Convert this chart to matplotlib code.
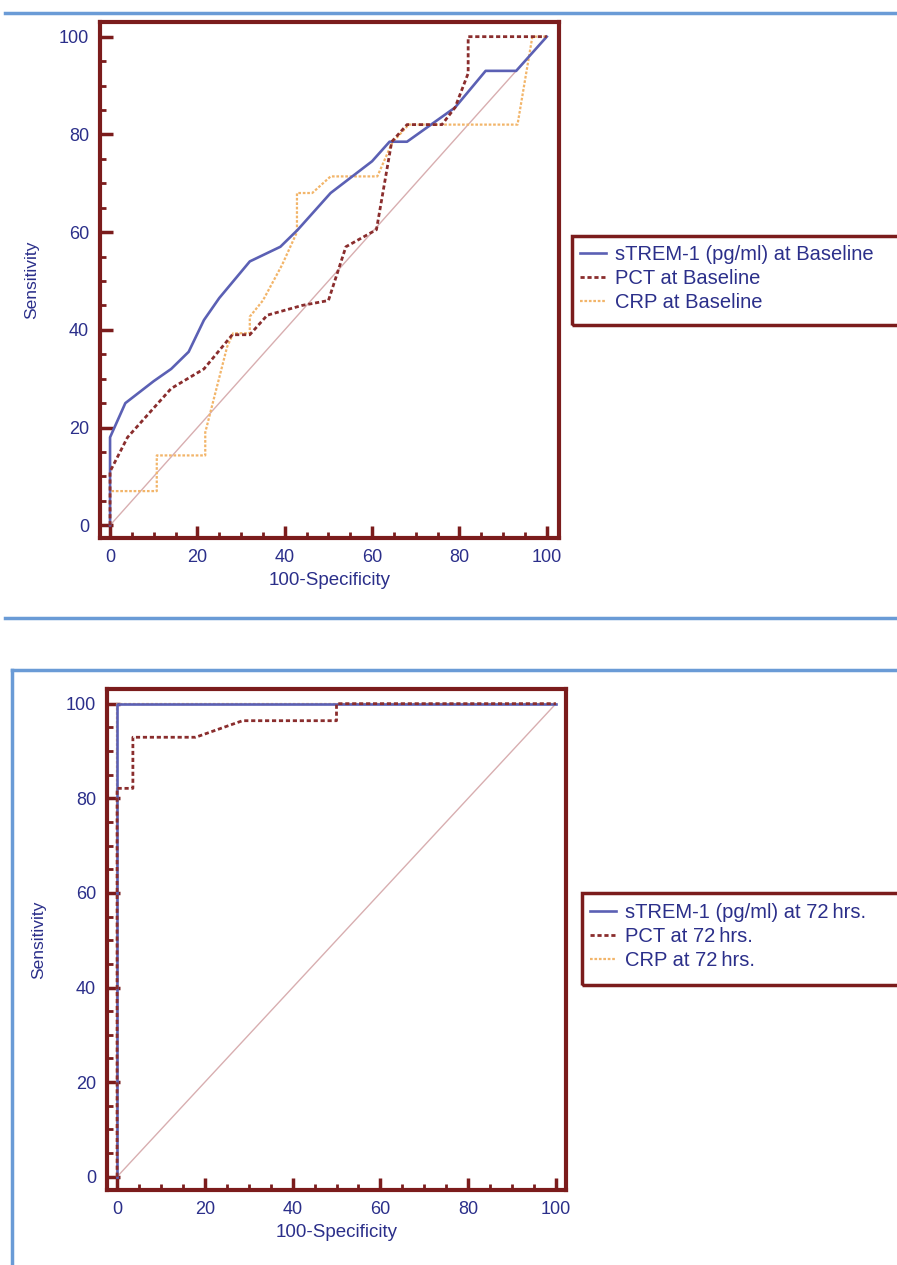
import matplotlib.pyplot as plt
from matplotlib.lines import Line2D
from matplotlib.patches import Rectangle
from matplotlib.ticker import MultipleLocator

plt.rcParams['font.family'] = ['Liberation Sans', 'DejaVu Sans']

# ROC data (x = 100-Specificity, y = Sensitivity)
base_strem_x = [0, 0, 3.5, 10, 14, 18, 21.5, 25, 32, 39, 43, 50.5, 60, 64, 68, 79, 86, 93, 100]
base_strem_y = [0, 18, 25, 29.5, 32, 35.5, 42, 46.5, 54, 57, 60.5, 68, 74.5, 78.5, 78.5, 85.5, 93, 93, 100]
base_pct_x = [0, 0, 4, 14, 21.5, 28, 32, 36, 44, 50, 54, 61, 64.5, 68, 76, 79, 82, 82, 100]
base_pct_y = [0, 11, 18, 28, 32, 39, 39, 43, 45, 46, 57, 60.5, 78.5, 82, 82, 85.5, 92.5, 100, 100]
base_crp_x = [0, 0, 10.7, 10.7, 21.8, 21.8, 26.8, 28.2, 32, 32, 35, 39.4, 42.8, 42.8, 46.3, 50.5, 61.2, 64.6, 68.4, 93.3, 96.7, 100]
base_crp_y = [0, 7, 7, 14.3, 14.3, 19, 36.5, 39.3, 39.3, 42.7, 46, 53.3, 60, 68, 68, 71.4, 71.4, 78.3, 82, 82, 100, 100]

h72_strem_x = [0, 0, 100]
h72_strem_y = [0, 100, 100]
h72_pct_x = [0, 0, 3.6, 3.6, 17.9, 28.6, 50, 50, 100]
h72_pct_y = [0, 82.1, 82.1, 92.9, 92.9, 96.4, 96.4, 100, 100]
h72_crp_x = [0, 0, 100]
h72_crp_y = [0, 100, 100]

labels_base = ['sTREM-1 (pg/ml) at Baseline', 'PCT at Baseline', 'CRP at Baseline']
labels_72 = ['sTREM-1 (pg/ml) at 72\u2009hrs.', 'PCT at 72\u2009hrs.', 'CRP at 72\u2009hrs.']

FRAME = '#7b1c1c'
NAVY = '#2b2f8a'
BLUE = '#5b60b4'
PCT = '#8a2d2d'
CRP = '#f2b56a'
DIAG = '#d8aeb0'
SEP = '#6a9bd6'

fig = plt.figure(figsize=(8.97, 12.65), dpi=100)
W, H = 897, 1265


def add_panel(box, xlim, ylim, series, labels, leg_box, leg_top):
    l, t, r, b = box
    ax = fig.add_axes([l / W, 1 - b / H, (r - l) / W, (b - t) / H])
    ax.plot([0, 100], [0, 100], color=DIAG, lw=1.0, zorder=1)
    (sx, sy), (px, py), (cx, cy) = series
    ax.plot(cx, cy, color=CRP, lw=1.6, ls=(0, (1.2, 0.8)), zorder=2)
    ax.plot(sx, sy, color=BLUE, lw=1.9, zorder=3)
    ax.plot(px, py, color=PCT, lw=2.0, ls=(0, (1.5, 1.0)), zorder=4)
    ax.set_xlim(*xlim)
    ax.set_ylim(*ylim)
    for s in ax.spines.values():
        s.set_color(FRAME)
        s.set_linewidth(3)
    ax.xaxis.set_major_locator(MultipleLocator(20))
    ax.xaxis.set_minor_locator(MultipleLocator(5))
    ax.yaxis.set_major_locator(MultipleLocator(20))
    ax.yaxis.set_minor_locator(MultipleLocator(5))
    ax.tick_params(which='major', direction='in', length=9, width=2.5, color=FRAME,
                   labelsize=13, labelcolor=NAVY, pad=8)
    ax.tick_params(which='minor', direction='in', length=4, width=2, color=FRAME)
    ax.set_xlabel('100-Specificity', color=NAVY, fontsize=13.5, labelpad=4)
    ax.set_ylabel('Sensitivity', color=NAVY, fontsize=12.5, labelpad=14)

    handles = [Line2D([], [], color=BLUE, lw=1.9),
               Line2D([], [], color=PCT, lw=2.0, ls=(0, (1.5, 1.0))),
               Line2D([], [], color=CRP, lw=1.6, ls=(0, (1.2, 0.8)))]
    lx0, ly0, lx1, ly1 = leg_box
    fig.patches.append(Rectangle((lx0 / W, 1 - ly1 / H), (lx1 - lx0) / W, (ly1 - ly0) / H,
                                 transform=fig.transFigure, fill=False,
                                 edgecolor=FRAME, lw=2.5))
    fig.legend(handles, labels, loc='upper left',
               bbox_to_anchor=((lx0 + 2) / W, 1 - leg_top / H),
               frameon=False, fontsize=14.5, labelcolor=NAVY,
               handlelength=1.3, handletextpad=0.45, labelspacing=0.25,
               borderaxespad=0, borderpad=0.3)
    return ax


add_panel((100, 22, 559, 538), (-2.3, 102.8), (-2.6, 103.0),
          [(base_strem_x, base_strem_y), (base_pct_x, base_pct_y), (base_crp_x, base_crp_y)],
          labels_base, (572, 236, 900, 325), 239)

add_panel((107, 689, 566, 1190), (-2.3, 102.3), (-2.8, 103.1),
          [(h72_strem_x, h72_strem_y), (h72_pct_x, h72_pct_y), (h72_crp_x, h72_crp_y)],
          labels_72, (582, 893, 900, 985), 897)

# separator lines / framing of the source document
fig.add_artist(Line2D([5 / W, 1], [1 - 13 / H] * 2, color=SEP, lw=2.5))
fig.add_artist(Line2D([5 / W, 1], [1 - 618 / H] * 2, color=SEP, lw=2.5))
fig.add_artist(Line2D([12 / W, 1], [1 - 670 / H] * 2, color=SEP, lw=2.5))
fig.add_artist(Line2D([12 / W, 12 / W], [1 - 670 / H, 0], color=SEP, lw=2.5))

fig.savefig('out.png', dpi=100)
